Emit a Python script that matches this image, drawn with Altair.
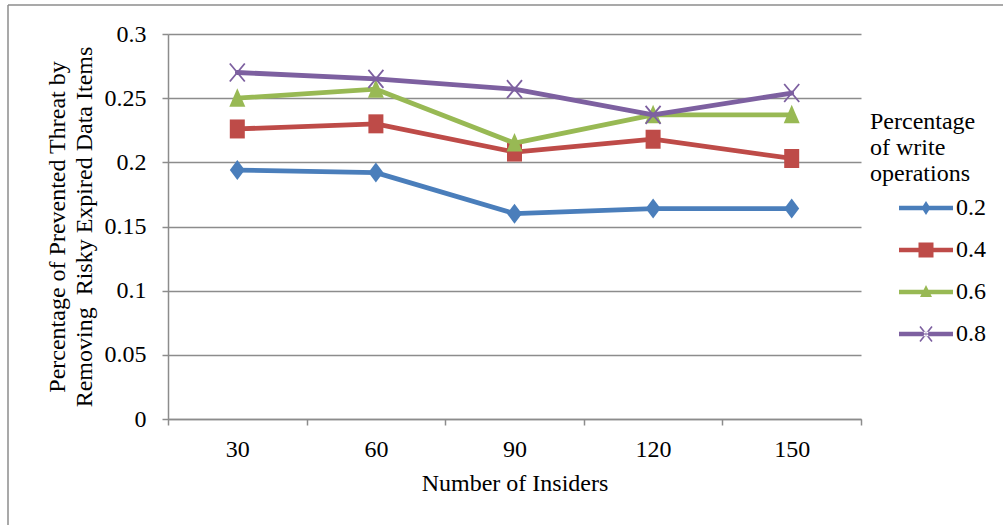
import math

import altair as alt
import pandas as pd

# Chart values
insiders = ["30", "60", "90", "120", "150"]
write_ops = ["0.2", "0.4", "0.6", "0.8"]
threat_02 = [0.194, 0.192, 0.160, 0.164, 0.164]
threat_04 = [0.226, 0.230, 0.208, 0.218, 0.203]
threat_06 = [0.250, 0.257, 0.215, 0.237, 0.237]
threat_08 = [0.270, 0.265, 0.257, 0.237, 0.254]
y_ticks = [0, 0.05, 0.1, 0.15, 0.2, 0.25, 0.3]

series_values = [threat_02, threat_04, threat_06, threat_08]
series_colors = ["#4A7EBB", "#BE4B48", "#98B954", "#7D60A0"]

rows = []
for s, vals in zip(write_ops, series_values):
    for n, v in zip(insiders, vals):
        rows.append({"insiders": n, "write": s, "threat": v})
df = pd.DataFrame(rows)

FONT = "Liberation Serif"
FS = 24
GRID = "#8C8C8C"
W, H = 693, 385

# Marker outlines used on the plotted points (unit coords, scaled by sqrt(size)/2)
marker_paths = [
    "M0,-1L0.75,0L0,1L-0.75,0Z",                 # diamond
    "M-0.75,-0.95H0.75V0.95H-0.75Z",             # square
    "M0,-1L0.8,0.85L-0.8,0.85Z",                 # triangle
    "M-0.75,-0.9L0.75,0.9M-0.75,0.9L0.75,-0.9",  # x
]

# Legend symbols: a filled bar for the line plus a filled marker, all fills
LEG = 54.0  # symbol width in px
S = LEG / 2.0


def u(px):
    return px / S


def bar():
    h = u(2.3)
    return f"M-1,{-h:.4f}H1V{h:.4f}H-1Z"


def poly(pts):
    return "M" + "L".join(f"{x:.4f},{y:.4f}" for x, y in pts) + "Z"


def x_arm(x0, y0, x1, y1, w):
    dx, dy = x1 - x0, y1 - y0
    ln = math.hypot(dx, dy)
    nx, ny = -dy / ln * w, dx / ln * w
    return poly([(x0 + nx, y0 + ny), (x1 + nx, y1 + ny), (x1 - nx, y1 - ny), (x0 - nx, y0 - ny)])


legend_paths = [
    bar() + poly([(0, u(-7)), (u(4.5), 0), (0, u(7)), (u(-4.5), 0)]),
    bar() + poly([(u(-7.5), u(-7.5)), (u(7.5), u(-7.5)), (u(7.5), u(7.5)), (u(-7.5), u(7.5))]),
    bar() + poly([(0, u(-7)), (u(6), u(5)), (u(-6), u(5))]),
    bar() + x_arm(u(-6), u(-7.5), u(6), u(7.5), u(0.8)) + x_arm(u(-6), u(7.5), u(6), u(-7.5), u(0.8)),
]

x_enc = alt.X(
    "insiders:N",
    sort=insiders,
    scale=alt.Scale(type="band", paddingInner=0, paddingOuter=0),
    axis=alt.Axis(
        title="Number of Insiders",
        labelAngle=0,
        tickBand="extent",
        grid=False,
        tickSize=6,
        labelPadding=31,
        labelBaseline="alphabetic",
        titleBaseline="alphabetic",
        titleY=71,
        titleX=W / 2,
    ),
)
y_enc = alt.Y(
    "threat:Q",
    scale=alt.Scale(domain=[0, 0.3], nice=False, zero=True),
    axis=alt.Axis(
        values=y_ticks,
        format="~g",
        title=["Percentage of Prevented Threat by", "Removing\u00a0 Risky Expired Data Items"],
        grid=True,
        tickSize=6,
        labelPadding=16,
        titleAngle=-90,
        titleAlign="center",
        titleBaseline="bottom",
        titleX=-99,
        titleY=H / 2,
        titleLineHeight=27,
    ),
)

base = alt.Chart(df)

layers = []
for i, s in enumerate(write_ops):
    sub = base.transform_filter(alt.datum.write == s)
    layers.append(
        sub.mark_line(color=series_colors[i], strokeWidth=4.8, strokeJoin="round", strokeCap="round")
        .encode(x=x_enc, y=y_enc)
    )
    if i < 3:
        pt = sub.mark_point(
            shape=marker_paths[i], size=400, filled=True, fill=series_colors[i],
            strokeWidth=0, opacity=1,
        )
    else:
        pt = sub.mark_point(
            shape=marker_paths[i], size=400, filled=False, stroke=series_colors[i],
            strokeWidth=1.8, opacity=1,
        )
    layers.append(pt.encode(x=x_enc, y=y_enc))

legend_def = alt.Legend(
    title=["Percentage", "of write", "operations"],
    orient="none",
    legendX=702,
    legendY=76,
    symbolSize=LEG * LEG,
    symbolStrokeWidth=0,
    symbolOpacity=1,
    symbolOffset=29,
    labelOffset=3,
    clipHeight=40,
    rowPadding=2,
    padding=0,
    titlePadding=2,
    titleLineHeight=26,
)

legend_layer = (
    base.transform_filter("false")
    .mark_point(filled=True, opacity=1, strokeWidth=0)
    .encode(
        x=x_enc,
        y=y_enc,
        shape=alt.Shape("write:N", scale=alt.Scale(domain=write_ops, range=legend_paths), legend=legend_def),
        fill=alt.Fill("write:N", scale=alt.Scale(domain=write_ops, range=series_colors), legend=legend_def),
    )
)

# Outer frame of the figure (top and left edges)
frame_df = pd.DataFrame({"k": [0]})
frame_left = alt.Chart(frame_df).mark_rule(color=GRID, strokeWidth=1.5).encode(
    x=alt.value(-160), y=alt.value(-29), y2=alt.value(H + 110)
)
frame_top = alt.Chart(frame_df).mark_rule(color=GRID, strokeWidth=1.5).encode(
    x=alt.value(-160), x2=alt.value(W + 150), y=alt.value(-29)
)

chart = (
    alt.layer(frame_left, frame_top, *layers, legend_layer)
    .properties(
        width=W,
        height=H,
        autosize=alt.AutoSizeParams(type="none"),
        padding={"left": 168, "top": 34, "right": 142, "bottom": 106},
        background="white",
    )
    .configure_view(stroke=None)
    .configure_axis(
        labelFont=FONT,
        labelFontSize=FS,
        labelColor="black",
        titleFont=FONT,
        titleFontSize=FS,
        titleFontWeight="normal",
        titleColor="black",
        domainColor=GRID,
        domainWidth=1.5,
        tickColor=GRID,
        tickWidth=1.5,
        gridColor=GRID,
        gridWidth=1.5,
        gridOpacity=1,
    )
    .configure_legend(
        labelFont=FONT,
        labelFontSize=FS,
        labelColor="black",
        titleFont=FONT,
        titleFontSize=FS,
        titleFontWeight="normal",
        titleColor="black",
    )
)

chart.save("out.html", embed_options={"renderer": "svg", "actions": False})
